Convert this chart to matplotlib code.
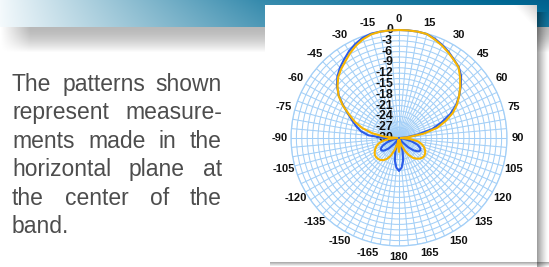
import numpy as np
import matplotlib
matplotlib.use("Agg")
import matplotlib.pyplot as plt
from matplotlib.patches import Rectangle
import matplotlib.transforms as mtrans

# ---------------- data ----------------
angles_deg = list(range(-180, 181, 5))
yellow_db = [
    -26.3, -27.5, -29.5, -28.5, -26.5, -24.5, -23.3, -22.5, -22.0, -21.8,   # -180..-135
    -21.7, -21.8, -22.2, -22.7, -23.3, -24.2, -25.5, -27.5, -29.5, -26.0,   # -130..-85
    -22.5, -19.5, -17.0, -14.8, -12.0, -9.5, -7.7, -6.1, -5.0, -4.0,        # -80..-35
    -2.8, -1.7, -0.8, -0.2, 0.0, 0.0, 0.0, 0.0, 0.0, -0.1,                  # -30..15
    -0.9, -1.7, -2.6, -3.5, -4.3, -6.0, -7.8, -9.6, -11.4, -13.5,           # 20..65
    -16.2, -19.0, -23.0, -27.5, -29.5, -27.0, -24.7, -23.5, -22.6, -22.0,   # 70..115
    -21.6, -21.4, -21.5, -21.9, -22.5, -23.3, -24.5, -26.0, -27.8, -29.0,   # 120..165
    -29.5, -27.5, -26.3,                                                    # 170..180
]
blue_db = [
    -21.0, -21.7, -23.5, -26.0, -28.5, -30.0, -30.0, -29.8, -27.8, -25.8,   # -180..-135
    -24.5, -24.0, -24.2, -25.0, -26.5, -28.5, -30.0, -30.0, -26.0, -21.5,   # -130..-85
    -19.3, -17.8, -16.3, -14.5, -12.2, -9.6, -7.5, -5.8, -4.5, -3.4,        # -80..-35
    -2.2, -1.2, -0.4, 0.0, 0.0, 0.0, 0.0, 0.0, 0.0, -0.1,                   # -30..15
    -0.7, -1.5, -2.4, -3.4, -4.2, -5.6, -7.6, -9.6, -11.7, -14.3,           # 20..65
    -17.5, -20.5, -25.0, -28.0, -30.0, -30.0, -28.5, -26.3, -24.5, -23.5,   # 70..115
    -23.1, -23.5, -24.6, -26.3, -28.3, -30.0, -30.0, -30.0, -28.5, -26.0,   # 120..165
    -23.5, -21.7, -21.0,                                                    # 170..180
]
theta_tick_deg = list(range(0, 360, 5))
theta_label_every = 15
r_grid_db = [-28.5, -27, -25.5, -24, -22.5, -21, -19.5, -18, -16.5, -15,
             -13.5, -12, -10.5, -9, -7.5, -6, -4.5, -3, -1.5, 0]
r_label_db = [0, -3, -6, -9, -12, -15, -18, -21, -24, -27, -30]
paragraph_lines = ["The patterns shown", "represent measure-", "ments made in the",
                   "horizontal plane at", "the center of the", "band."]

# ---------------- figure ----------------
W, H = 549, 267
fig = plt.figure(figsize=(W / 100, H / 100), dpi=100)
fig.patch.set_facecolor("white")

bg = fig.add_axes([0, 0, 1, 1], zorder=0)
bg.axis("off")

# banner gradient
bh = 27
xs = np.linspace(0, 1, W)
c_left = np.array([0.96, 0.98, 0.99])
c_mid = np.array([0.29, 0.59, 0.71])
c_right = np.array([0.06, 0.44, 0.60])
xm = 260 / W
img = np.zeros((bh, W, 3))
for i, x in enumerate(xs):
    if x <= xm:
        t = (x / xm) ** 0.9
        c = c_left * (1 - t) + c_mid * t
    else:
        t = (x - xm) / (1 - xm)
        c = c_mid * (1 - t) + c_right * t
    img[:, i, :] = c
vy = np.linspace(0.9, 1.03, bh)[:, None, None]
img = np.clip(1 - (1 - img) / vy, 0, 1)
bg.imshow(img, extent=[0, W, bh, 0], aspect="auto", zorder=1, interpolation="bilinear")

# shadow band under banner
sh_h = 26
sy = np.linspace(0, 1, sh_h)
ay = 0.28 * (1 - np.clip(sy, 0, 1) ** 1.6)
sx = np.clip(np.arange(W) / 30.0, 0, 1)
alpha = ay[:, None] * sx[None, :]
shadow = np.zeros((sh_h, W, 4))
shadow[..., 3] = alpha
bg.imshow(shadow, extent=[0, W, bh + sh_h, bh], aspect="auto", zorder=1, interpolation="bilinear")

# panel shadow (right and bottom)
px0, py0, px1, py1 = 265, 5, 537, 262
rs_w = W - px1
rs = np.zeros((H - 12, rs_w, 4))
rs[..., 3] = (0.38 * (1 - np.linspace(0, 1, rs_w)) ** 1.3)[None, :]
bg.imshow(rs, extent=[px1, W, H, 12], aspect="auto", zorder=2, interpolation="bilinear")
bs_h = H - py1
bs = np.zeros((bs_h, W - px0 - 5, 4))
bs[..., 3] = (0.32 * (1 - np.linspace(0, 1, bs_h)))[:, None]
bg.imshow(bs, extent=[px0 + 5, W, H, py1], aspect="auto", zorder=2, interpolation="bilinear")

bg.add_patch(Rectangle((px0, py0), px1 - px0, py1 - py0, facecolor="white",
                       edgecolor="none", zorder=3))

# corner shading at the panel's top-right
cw, chh = 24, 26
uu = np.linspace(0, 1, cw)[None, :]
vv = np.linspace(1, 0, chh)[:, None]
corner = np.zeros((chh, cw, 4))
corner[..., :3] = 0.45
corner[..., 3] = 0.35 * np.clip(uu + vv - 1.0, 0, 1) ** 1.2
bg.imshow(corner, extent=[px1 - cw, px1, py0 + chh, py0], aspect="auto", zorder=3.5,
          interpolation="bilinear")
bg.set_xlim(0, W)
bg.set_ylim(H, 0)

# justified paragraph
fig.canvas.draw()
renderer = fig.canvas.get_renderer()
x_left, x_right = 12, 222
base0, lead = 91, 28.4
fs_par = 16.5
for li, line in enumerate(paragraph_lines):
    words = line.split(" ")
    texts = [bg.text(0, 0, w, fontsize=fs_par, family="Liberation Sans", color="#4d4d4d",
                     va="baseline", ha="left", zorder=4) for w in words]
    widths = [t.get_window_extent(renderer).width for t in texts]
    y = base0 + lead * li
    if li < len(paragraph_lines) - 1 and len(words) > 1:
        gap = (x_right - x_left - sum(widths)) / (len(words) - 1)
    else:
        sp = bg.text(0, 0, "a a", fontsize=fs_par, family="Liberation Sans")
        sp2 = bg.text(0, 0, "aa", fontsize=fs_par, family="Liberation Sans")
        gap = sp.get_window_extent(renderer).width - sp2.get_window_extent(renderer).width
        sp.remove(); sp2.remove()
    x = x_left
    for t, w in zip(texts, widths):
        t.set_position((x, y))
        x += w + gap

# ---------------- polar chart ----------------
cx, cy, R = 399, 138, 108
ax = fig.add_axes([(cx - R) / W, (H - cy - R) / H, 2 * R / W, 2 * R / H],
                  projection="polar", zorder=5)
ax.set_facecolor("white")
ax.set_theta_zero_location("N")
ax.set_theta_direction(-1)
ax.set_ylim(-30, 0)

grid_col = "#a3cff7"
labels = [(str(a if a <= 180 else a - 360) if a % theta_label_every == 0 else "")
          for a in theta_tick_deg]
ax.set_thetagrids(theta_tick_deg, labels)
ax.set_rgrids(r_grid_db, [""] * len(r_grid_db))
ax.grid(True, color=grid_col, lw=0.75)
ax.spines["polar"].set_color(grid_col)
ax.spines["polar"].set_linewidth(0.9)
ax.tick_params(axis="x", pad=1.0, length=0)
for lab in ax.get_xticklabels():
    lab.set_fontweight("bold")
    lab.set_fontsize(8)
    lab.set_family("Liberation Sans")
    lab.set_color("#111111")

th = np.deg2rad(angles_deg)
ax.plot(th, blue_db, color="#2b5be8", lw=1.5, zorder=6, clip_on=False)
ax.plot(th, yellow_db, color="#f7b500", lw=1.5, zorder=7, clip_on=False)

lab_tr = mtrans.offset_copy(ax.transData, fig=fig, x=-6, y=0, units="dots")
for v in r_label_db:
    ax.text(0, v, str(v), transform=lab_tr, ha="right", va="center", fontsize=8.8,
            fontweight="bold", family="Liberation Sans", color="#111111", zorder=5)

fig.savefig("out.png", dpi=100, facecolor="white")
